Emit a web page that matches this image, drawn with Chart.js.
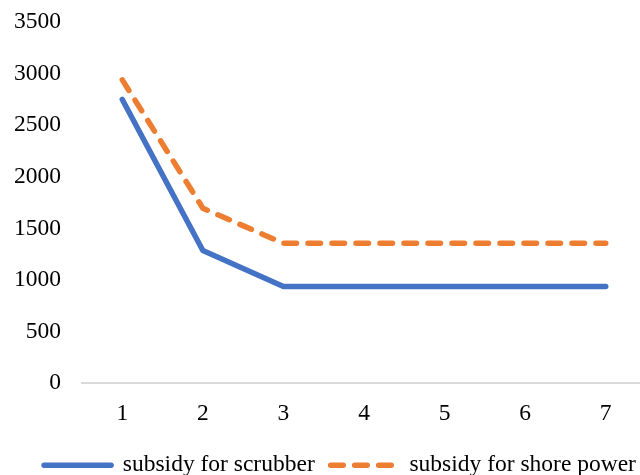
<!DOCTYPE html>
<html>
<head>
<meta charset="utf-8">
<script src="https://cdn.jsdelivr.net/npm/chart.js@4/dist/chart.umd.min.js"></script>
<style>
  html, body { margin: 0; padding: 0; background: #fff; overflow: hidden; }
  #wrap { width: 680px; height: 500px; margin-top: -13px; }
</style>
</head>
<body>
<div id="wrap"><canvas id="lineChart"></canvas></div>
<script>
const categories = ["1", "2", "3", "4", "5", "6", "7"];
const scrubberValues = [2750, 1285, 935, 935, 935, 935, 935];
const shorePowerValues = [2940, 1695, 1355, 1355, 1355, 1355, 1355];
const yTicks = [0, 500, 1000, 1500, 2000, 2500, 3000, 3500];

Chart.defaults.font.family = "'Liberation Serif', 'Times New Roman', serif";
Chart.defaults.font.size = 23.5;
Chart.defaults.color = "#000";

const dashPattern = [12.5, 11.5];

const ctx = document.getElementById("lineChart").getContext("2d");
new Chart(ctx, {
    type: "line",
    data: {
        labels: categories,
        datasets: [
            {
                label: "subsidy for scrubber",
                data: scrubberValues,
                borderColor: "#4472c4",
                backgroundColor: "#4472c4",
                borderWidth: 5.5,
                pointRadius: 0,
                pointStyle: "line",
                borderCapStyle: "round",
                borderJoinStyle: "round",
                tension: 0,
                fill: false
            },
            {
                label: "subsidy for shore power",
                data: shorePowerValues,
                borderColor: "#ed7d31",
                backgroundColor: "#ed7d31",
                borderWidth: 5.5,
                borderDash: dashPattern,
                pointRadius: 0,
                pointStyle: "line",
                borderCapStyle: "round",
                borderJoinStyle: "round",
                tension: 0,
                fill: false
            }
        ]
    },
    options: {
        responsive: true,
        maintainAspectRatio: false,
        animation: false,
        layout: { autoPadding: false, padding: { top: 7, left: 0, right: 0, bottom: 0 } },
        plugins: {
            legend: {
                position: "bottom",
                labels: {
                    usePointStyle: true,
                    pointStyleWidth: 67,
                    padding: 16,
                    color: "#000",
                    generateLabels: chart => {
                        const items = Chart.defaults.plugins.legend.labels.generateLabels(chart);
                        items.forEach(item => {
                            const ds = chart.data.datasets[item.datasetIndex];
                            item.lineWidth = ds.borderWidth;
                            item.strokeStyle = ds.borderColor;
                            item.lineDash = ds.borderDash || [];
                            item.lineCap = "round";
                        });
                        return items;
                    }
                }
            },
            tooltip: { enabled: false }
        },
        scales: {
            x: {
                offset: true,
                grid: { display: false, drawTicks: false },
                border: { display: true, color: "#d9d9d9", width: 2 },
                ticks: { padding: 17, maxRotation: 0 },
                afterFit: scale => { scale.height = 54.5; }
            },
            y: {
                min: 0,
                max: 3500,
                afterBuildTicks: axis => { axis.ticks = yTicks.map(v => ({ value: v })); },
                grid: { display: false, drawTicks: false },
                border: { display: false },
                ticks: { padding: 21, callback: v => String(v) },
                afterFit: scale => { scale.width = 82; }
            },
            yRight: {
                position: "right",
                display: true,
                grid: { display: false, drawTicks: false },
                border: { display: false },
                ticks: { display: false },
                afterFit: scale => { scale.width = 34; }
            }
        }
    }
});
</script>
</body>
</html>
